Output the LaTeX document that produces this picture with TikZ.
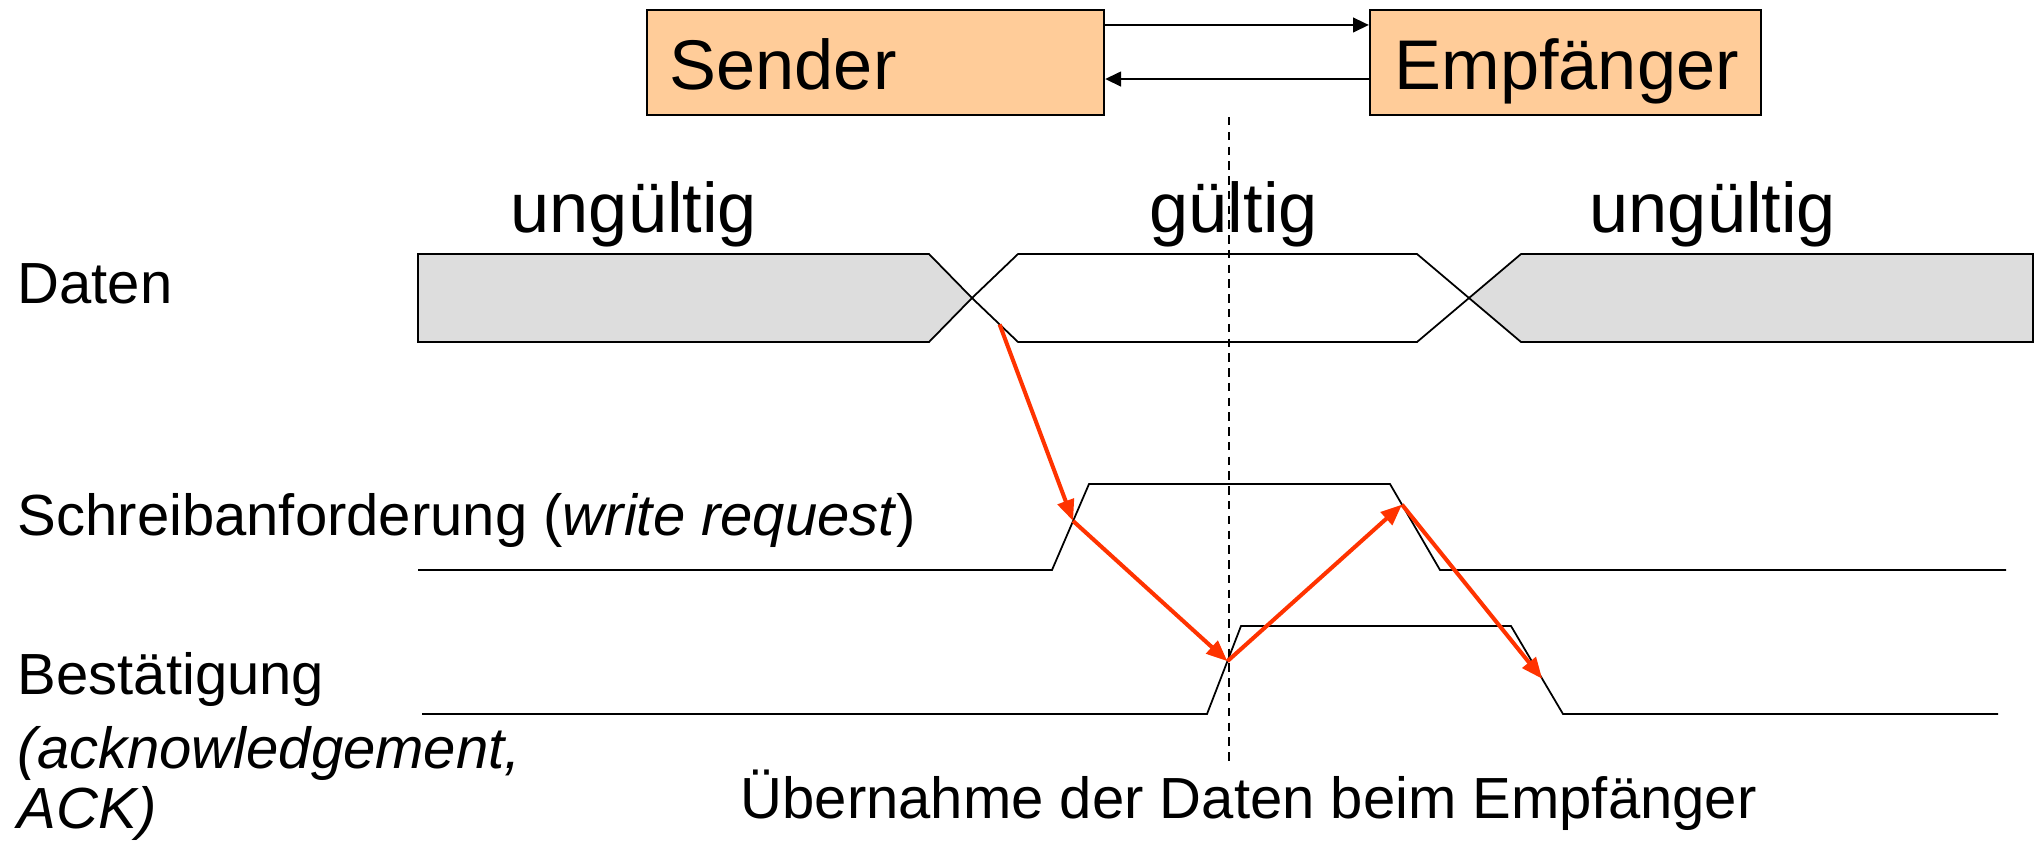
\documentclass[tikz,border=0pt]{standalone}
\usepackage{fontspec}
\setmainfont{Liberation Sans}
\usetikzlibrary{arrows.meta}
\definecolor{boxfill}{HTML}{FFCC99}
\definecolor{busgrey}{HTML}{DDDDDD}
\definecolor{sig}{RGB}{255,51,0}

\begin{document}
\begin{tikzpicture}[x=0.01cm,y=-0.01cm,
  box/.style={draw, line width=0.6pt, fill=boxfill, minimum width=4.57cm,
    minimum height=1.05cm, inner sep=0},
  big/.style={font=\fontsize{20}{24}\selectfont, inner sep=0, anchor=base west},
  small/.style={font=\fontsize{16.5}{19}\selectfont, inner sep=0, anchor=base west},
  wave/.style={line width=0.5pt, line join=miter},
  handshake/.style={draw=sig, line width=1.15pt, -{Triangle[length=6pt,width=4.8pt]}},
  link/.style={line width=0.5pt, -{Triangle[length=4.5pt,width=4.2pt]}},
  marker/.style={line width=0.45pt, dash pattern=on 2.4pt off 1.8pt}]

\useasboundingbox (0,0) rectangle (2042,842);

% sender and receiver
\node[box] (snd) at (875.5,62.5) {};
\node[box, minimum width=3.91cm] (rcv) at (1565.5,62.5) {};
\node[big] (sndtxt) at (669,89) {Sender};
\node[big] (rcvtxt) at (1394,89) {Empfänger};
\draw[link] ([yshift=3.75mm]snd.east) -- ([yshift=3.75mm]rcv.west);
\draw[link] ([yshift=-1.65mm]rcv.west) -- ([yshift=-1.65mm]snd.east);

% state of the data lines
\node[big] (inv1) at (510,232) {ungültig};
\node[big] (val) at (1149,232) {gültig};
\node[big] (inv2) at (1589,232) {ungültig};

% row labels
\node[small] (lbldata) at (17,303) {Daten};
\node[small] (lblreq) at (17,535) {Schreibanforderung (\textit{write request})};
\node[small] (ack1) at (17,694) {Bestätigung};
\node[small] (ack2) at (17,768) {\itshape (acknowledgement,};
\node[small] (ack3) at (17,828) {\itshape ACK)};
\node[small] (takeover) at (740,818) {Übernahme der Daten beim Empfänger};

% data bus
\filldraw[wave, fill=busgrey] (418,254) -- (929,254) -- (972,298) -- (929,342) -- (418,342) -- cycle;
\draw[wave] (972,298) -- (1018,254) -- (1417,254) -- (1469,298) -- (1417,342)
  -- (1018,342) -- coordinate[pos=0.4] (dstart) cycle;
\filldraw[wave, fill=busgrey] (1469,298) -- (1521,254) -- (2033,254) -- (2033,342) -- (1521,342) -- cycle;

% write request
\draw[wave] (418,570) -- (1052,570) -- coordinate[pos=0.57] (reqrise) (1089,484)
  -- (1390,484) -- coordinate[pos=0.24] (reqfall) (1440,570) -- (2006,570);

% acknowledgement
\draw[wave] (422,714) -- (1207,714) -- coordinate[pos=0.6] (ackrise) (1241,626)
  -- (1511,626) -- coordinate[pos=0.6] (ackfall) (1563,714) -- (1998,714);

% moment of data takeover
\coordinate (mtop) at (1229,117);
\coordinate (mbot) at (1229,762);
\draw[marker] (mtop) -- (mbot);

% handshake sequence
\draw[handshake] (dstart) -- (reqrise);
\draw[handshake] (reqrise) -- (ackrise);
\draw[handshake] (ackrise) -- (reqfall);
\draw[handshake] (reqfall) -- (ackfall);
\end{tikzpicture}
\end{document}
